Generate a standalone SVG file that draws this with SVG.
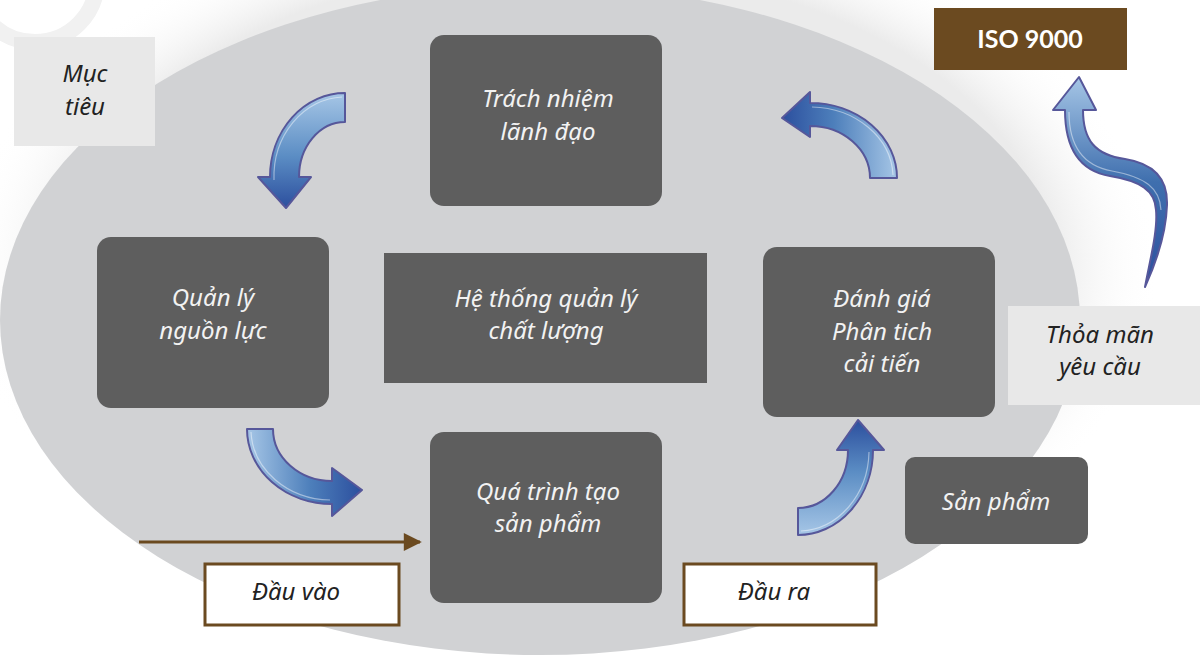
<svg xmlns="http://www.w3.org/2000/svg" width="1200" height="655" viewBox="0 0 1200 655">
<defs>
<style>
.dark{fill:#5e5e5e}
.light{fill:#e8e8e8}
.io{fill:#ffffff;stroke:#6b4a20;stroke-width:3}
.tw{font-family:"Noto Sans","Open Sans",sans-serif;font-style:italic;font-size:24px;fill:#f2f2f2;text-anchor:middle}
.tb{font-family:"Noto Sans","Open Sans",sans-serif;font-style:italic;font-size:24px;fill:#222222;text-anchor:middle}
.iso{font-family:Lato,"Liberation Sans",sans-serif;font-weight:bold;font-size:25px;fill:#ffffff;text-anchor:middle}
.arr{stroke:#56579a;stroke-width:2;stroke-linejoin:round}
.hl{fill:none;stroke:#ffffff;stroke-opacity:0.45;stroke-width:1.2}
</style>
<radialGradient id="halo" cx="0.5" cy="0.5" r="0.5">
<stop offset="0.82" stop-color="#e6e6e6" stop-opacity="0.8"/>
<stop offset="1" stop-color="#ffffff" stop-opacity="0"/>
</radialGradient>
<linearGradient id="gDown" x1="0" y1="0" x2="0" y2="1">
<stop offset="0" stop-color="#a6c6e6"/><stop offset="0.55" stop-color="#5b8dc4"/><stop offset="1" stop-color="#2c4f9e"/>
</linearGradient>
<linearGradient id="gUp" x1="0" y1="1" x2="0" y2="0">
<stop offset="0" stop-color="#a6c6e6"/><stop offset="0.55" stop-color="#5b8dc4"/><stop offset="1" stop-color="#2c4f9e"/>
</linearGradient>
<linearGradient id="gRight" x1="0" y1="0" x2="1" y2="0">
<stop offset="0" stop-color="#a6c6e6"/><stop offset="0.55" stop-color="#4d7fbb"/><stop offset="1" stop-color="#2c4f9e"/>
</linearGradient>
<linearGradient id="gLeft" x1="1" y1="0" x2="0" y2="0">
<stop offset="0" stop-color="#a6c6e6"/><stop offset="0.55" stop-color="#4d7fbb"/><stop offset="1" stop-color="#2c4f9e"/>
</linearGradient>
<linearGradient id="gS" x1="0" y1="0" x2="0" y2="1">
<stop offset="0" stop-color="#a6c6e6"/><stop offset="0.5" stop-color="#3f6fae"/><stop offset="1" stop-color="#2c4f9e"/>
</linearGradient>
<marker id="bh" viewBox="0 0 10 10" refX="9" refY="5" markerWidth="8" markerHeight="6" markerUnits="strokeWidth" orient="auto">
<path d="M0,0 L10,5 L0,10 Z" fill="#6b4a20"/>
</marker>
</defs>

<g id="background">
<rect width="1200" height="655" fill="#ffffff"/>
<circle cx="35" cy="-20" r="62" fill="none" stroke="#f1f1f1" stroke-width="16"/>
<ellipse cx="560" cy="270" rx="600" ry="370" fill="url(#halo)"/>
<ellipse cx="540" cy="320" rx="540" ry="335" fill="#d1d2d4"/>
</g>

<g id="connectors">
<line x1="139" y1="542" x2="420" y2="542" stroke="#6b4a20" stroke-width="3" marker-end="url(#bh)"/>
<g id="arrow-top-left">
<path class="arr" fill="url(#gDown)" d="M345,93 A75,84 0 0 0 270,177 L258,177 L286,208 L311,177 L299,177 A46,55 0 0 1 345,122 Z"/>
<path class="hl" d="M342,97 A71,80 0 0 0 274,180"/>
</g>
<g id="arrow-bottom-left">
<path class="arr" fill="url(#gRight)" d="M247,429 A85,75 0 0 0 332,504 L332,516 L362,490 L332,468 L332,481 A59,52 0 0 1 273,429 Z"/>
<path class="hl" d="M251,432 A81,71 0 0 0 330,500"/>
</g>
<g id="arrow-bottom-right">
<path class="arr" fill="url(#gUp)" d="M798,535 A75,85 0 0 0 873,450 L884,450 L858,420 L837,450 L848,450 A50,58 0 0 1 798,508 Z"/>
<path class="hl" d="M801,531 A71,81 0 0 0 869,452"/>
</g>
<g id="arrow-top-right">
<path class="arr" fill="url(#gLeft)" d="M897,178 A87,75 0 0 0 810,103 L810,92 L782,118 L810,137 L810,126 A60,52 0 0 1 870,178 Z"/>
<path class="hl" d="M893,175 A83,71 0 0 0 812,107"/>
</g>
<g id="arrow-iso">
<path class="arr" fill="url(#gS)" d="M1079,77 L1096,110 L1083,110 C1083,140 1095,155 1125,159 C1150,163 1168,175 1167,205 C1166,235 1155,265 1145,287 C1150,260 1158,230 1156,210 C1155,190 1140,181 1110,176 C1080,171 1065,150 1065,110 L1053,110 Z"/>
<path class="hl" d="M1069,112 C1069,148 1084,166 1112,171 C1145,177 1160,188 1161,210"/>
</g>
</g>

<g id="muc-tieu">
<rect class="light" x="14" y="37" width="141" height="109"/>
<text class="tb" x="85" y="82">Mục</text>
<text class="tb" x="85" y="115">tiêu</text>
</g>

<g id="trach-nhiem">
<rect class="dark" x="430" y="35" width="232" height="171" rx="14"/>
<text class="tw" x="548" y="107">Trách nhiệm</text>
<text class="tw" x="548" y="140">lãnh đạo</text>
</g>

<g id="quan-ly-nguon-luc">
<rect class="dark" x="97" y="237" width="232" height="171" rx="14"/>
<text class="tw" x="213" y="306">Quản lý</text>
<text class="tw" x="213" y="339">nguồn lực</text>
</g>

<g id="he-thong">
<rect class="dark" x="384" y="253" width="323" height="130"/>
<text class="tw" x="546" y="307">Hệ thống quản lý</text>
<text class="tw" x="546" y="339">chất lượng</text>
</g>

<g id="danh-gia">
<rect class="dark" x="763" y="247" width="232" height="170" rx="14"/>
<text class="tw" x="882" y="307">Đánh giá</text>
<text class="tw" x="882" y="340">Phân tich</text>
<text class="tw" x="882" y="372">cải tiến</text>
</g>

<g id="qua-trinh">
<rect class="dark" x="430" y="432" width="232" height="171" rx="14"/>
<text class="tw" x="548" y="500">Quá trình tạo</text>
<text class="tw" x="548" y="532">sản phẩm</text>
</g>

<g id="san-pham">
<rect class="dark" x="905" y="457" width="183" height="87" rx="10"/>
<text class="tw" x="996" y="510">Sản phẩm</text>
</g>

<g id="iso-9000">
<rect x="934" y="8" width="193" height="62" fill="#6b4a20"/>
<text class="iso" x="1030" y="48">ISO 9000</text>
</g>

<g id="thoa-man">
<rect class="light" x="1008" y="306" width="192" height="99"/>
<text class="tb" x="1100" y="343">Thỏa mãn</text>
<text class="tb" x="1100" y="375">yêu cầu</text>
</g>

<g id="dau-vao">
<rect class="io" x="205" y="564" width="194" height="61"/>
<text class="tb" x="296" y="600">Đầu vào</text>
</g>

<g id="dau-ra">
<rect class="io" x="684" y="564" width="192" height="61"/>
<text class="tb" x="774" y="600">Đầu ra</text>
</g>
</svg>
